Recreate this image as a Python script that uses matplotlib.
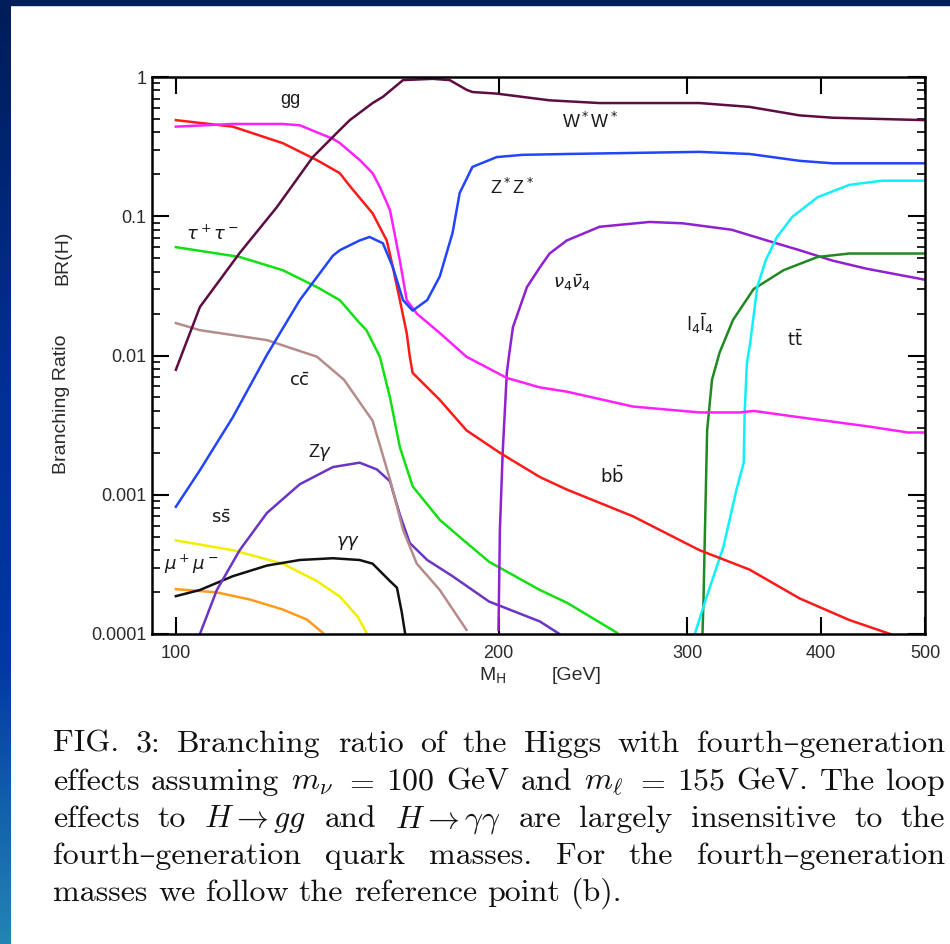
import numpy as np
import matplotlib.pyplot as plt
from matplotlib.colors import LinearSegmentedColormap
from matplotlib.patches import Rectangle
from matplotlib.ticker import FixedLocator, FixedFormatter, NullLocator, LogLocator, NullFormatter

plt.rcParams['font.family'] = ['Liberation Sans', 'DejaVu Sans']

# Higgs branching ratios, 4th generation (m_nu = 100, m_l = 155 GeV)
# masses in GeV, branching ratios as fractions
ww_m = [100.0, 105.3, 114.7, 124.2, 134.2, 142.2, 145.3, 152.6, 156.0, 162.9, 173.6,
        180.1, 186.7, 189.1, 199.2, 223.2, 248.5, 308.0, 343.0, 382.0, 410.0, 500.0]
ww_br = [0.0079, 0.0223, 0.0545, 0.116, 0.266, 0.416, 0.49, 0.65, 0.72, 0.95, 0.97,
         0.95, 0.81, 0.78, 0.76, 0.68, 0.65, 0.65, 0.61, 0.53, 0.51, 0.49]

gg_m = [100.0, 113.0, 125.8, 130.5, 140.1, 142.2, 148.4, 152.6, 155.0, 158.4, 161.8, 164.2,
        167.8, 176.3, 186.7, 203.6, 218.6, 231.6, 267.0, 308.0, 336.0, 346.0, 382.0, 442.0,
        482.0, 500.0]
gg_br = [0.44, 0.46, 0.46, 0.45, 0.36, 0.336, 0.254, 0.204, 0.162, 0.111, 0.048, 0.025,
         0.020, 0.0145, 0.0098, 0.0069, 0.0059, 0.0055, 0.0043, 0.0039, 0.0039, 0.0040, 0.0036,
         0.0031, 0.0028, 0.0028]

bb_m = [100.0, 113.0, 125.8, 135.4, 142.2, 145.3, 152.6, 157.3, 159.4, 161.8, 164.2, 165.3,
        166.3, 176.3, 186.7, 200.6, 218.6, 231.6, 267.0, 308.0, 343.0, 382.0, 425.0, 464.0]
bb_br = [0.49, 0.44, 0.335, 0.253, 0.204, 0.165, 0.105, 0.067, 0.043, 0.025, 0.0145, 0.0098,
         0.0075, 0.0048, 0.0029, 0.0020, 0.00134, 0.00109, 0.00070, 0.00040, 0.00029, 0.00018,
         0.000126, 0.0001]

zz_m = [100.0, 105.3, 113.0, 121.6, 130.5, 140.1, 142.2, 148.4, 151.6, 156.0, 159.4, 162.9,
        166.3, 171.6, 176.3, 181.2, 184.0, 189.1, 199.2, 210.6, 231.6, 308.0, 343.0, 382.0,
        410.0, 500.0]
zz_br = [0.00082, 0.0015, 0.0036, 0.0101, 0.025, 0.052, 0.057, 0.067, 0.071, 0.064, 0.043,
         0.025, 0.021, 0.025, 0.037, 0.076, 0.147, 0.226, 0.266, 0.276, 0.28, 0.29, 0.28, 0.25,
         0.24, 0.24]

tau_m = [100.0, 114.7, 125.8, 135.4, 142.2, 148.4, 150.6, 155.0, 158.4, 161.8, 166.3, 176.3,
         185.0, 196.0, 218.6, 231.6, 258.0]
tau_br = [0.060, 0.051, 0.041, 0.031, 0.025, 0.0171, 0.0152, 0.0098, 0.0050, 0.0022, 0.00115,
          0.00066, 0.00048, 0.00033, 0.000207, 0.000168, 0.000102]

cc_m = [100.0, 105.3, 121.6, 135.4, 143.5, 152.6, 158.4, 162.9, 167.8, 176.3, 186.7]
cc_br = [0.0171, 0.0152, 0.0129, 0.0098, 0.0067, 0.0034, 0.00129, 0.00056, 0.00032,
         0.000207, 0.000107]

zgam_m = [105.3, 109.2, 114.7, 121.6, 130.5, 140.1, 148.4, 154.0, 158.4, 161.8, 165.3, 171.6,
          181.2, 196.0, 218.6, 228.0]
zgam_br = [0.0001, 0.000207, 0.00040, 0.00074, 0.00119, 0.00158, 0.00170, 0.00152, 0.00125,
           0.00072, 0.00045, 0.00034, 0.00026, 0.000171, 0.000123, 0.0001]

gamgam_m = [100.0, 105.3, 113.0, 121.6, 130.5, 140.1, 148.4, 152.6, 158.4, 160.8, 162.5, 163.6]
gamgam_br = [0.000187, 0.000207, 0.00026, 0.00031, 0.00034, 0.00035, 0.00034, 0.00032,
             0.00024, 0.000215, 0.000142, 0.000102]

ss_m = [100.0, 113.0, 125.8, 135.4, 142.2, 147.8, 150.6]
ss_br = [0.00047, 0.00040, 0.00032, 0.00024, 0.000186, 0.000133, 0.000102]

mumu_m = [100.0, 109.2, 117.2, 125.8, 132.5, 137.1]
mumu_br = [0.00021, 0.000199, 0.000177, 0.000150, 0.000127, 0.000102]

nu_m = [200.0, 200.6, 201.8, 203.6, 204.5, 206.3, 212.6, 218.6, 223.2, 231.6, 248.5, 276.6,
        297.0, 330.0, 356.0, 382.0, 410.0, 441.0, 500.0]
nu_br = [0.000107, 0.00056, 0.0020, 0.0075, 0.0098, 0.016, 0.031, 0.043, 0.054, 0.067, 0.084,
         0.091, 0.089, 0.080, 0.067, 0.057, 0.048, 0.042, 0.035]

ll_m = [310.0, 310.7, 311.4, 312.4, 313.1, 316.4, 321.6, 331.0, 346.0, 369.0, 397.0, 425.0, 500.0]
ll_br = [0.0001, 0.00018, 0.00042, 0.0013, 0.0029, 0.0067, 0.0105, 0.018, 0.030, 0.041, 0.051,
         0.054, 0.054]

tt_m = [304.9, 312.4, 324.2, 333.5, 338.7, 339.4, 341.0, 343.3, 348.7, 355.0, 363.8, 376.0,
        397.0, 425.0, 456.0, 500.0]
tt_br = [0.0001, 0.00018, 0.00042, 0.00109, 0.0017, 0.0039, 0.0088, 0.012, 0.031, 0.048, 0.071,
         0.099, 0.137, 0.168, 0.18, 0.18]

x_ticks = [100, 200, 300, 400, 500]
x_ticklabels = ['100', '200', '300', '400', '500']
y_ticks = [1e-4, 1e-3, 1e-2, 1e-1, 1]
y_ticklabels = ['0.0001', '0.001', '0.01', '0.1', '1']

curves = [
    (mumu_m, mumu_br, '#ff9a1a'),
    (ss_m, ss_br, '#f2ee00'),
    (gamgam_m, gamgam_br, '#111111'),
    (zgam_m, zgam_br, '#6a34c4'),
    (cc_m, cc_br, '#b48c8a'),
    (tau_m, tau_br, '#12e012'),
    (nu_m, nu_br, '#9020d0'),
    (ll_m, ll_br, '#1f8a22'),
    (tt_m, tt_br, '#10f0f8'),
    (bb_m, bb_br, '#ff1a1a'),
    (gg_m, gg_br, '#ff20ff'),
    (zz_m, zz_br, '#2244ff'),
    (ww_m, ww_br, '#5e0c42'),
]

# curve names: (text, x px, y px)
curve_labels = [
    ('gg', 290, 100),
    ('W$^*$W$^*$', 590, 122),
    ('Z$^*$Z$^*$', 512, 188),
    (r'$\tau^+\tau^-$', 212, 234),
    (r'$\nu_4\bar{\nu}_4$', 572, 283),
    (r'$\mathrm{l}_4\bar{\mathrm{l}}_4$', 700, 324),
    (r'$\mathrm{t}\bar{\mathrm{t}}$', 795, 340),
    (r'$\mathrm{c}\bar{\mathrm{c}}$', 299, 381),
    (r'Z$\gamma$', 320, 452),
    (r'$\mathrm{b}\bar{\mathrm{b}}$', 612, 476),
    (r'$\mathrm{s}\bar{\mathrm{s}}$', 221, 518),
    (r'$\gamma\gamma$', 348, 543),
    (r'$\mu^+\mu^-$', 191, 564),
]

caption = [
    ['FIG.', '3:', 'Branching', 'ratio', 'of', 'the', 'Higgs', 'with', 'fourth\u2013generation'],
    ['effects', 'assuming', r'$m_\nu$', r'$=$', '100', 'GeV', 'and', r'$m_\ell$', r'$=$', '155',
     'GeV.', 'The', 'loop'],
    ['effects', 'to', r'$H\rightarrow gg$', 'and', r'$H\rightarrow\gamma\gamma$', 'are',
     'largely', 'insensitive', 'to', 'the'],
    ['fourth\u2013generation', 'quark', 'masses.', 'For', 'the', 'fourth\u2013generation'],
    ['masses', 'we', 'follow', 'the', 'reference', 'point', '(b).'],
]

W, H = 950, 944
fig = plt.figure(figsize=(W / 100, H / 100), dpi=100)
fig.patch.set_facecolor('white')


def fx(px):
    return px / W


def fy(py):
    return 1 - py / H


# dark frame: top band and blue gradient strip on the left
fig.add_artist(Rectangle((0, fy(5)), 1, 5 / H, transform=fig.transFigure,
                         color='#001e5a', zorder=5))
strip = LinearSegmentedColormap.from_list(
    'strip', [(0, '#001d58'), (0.4, '#002f94'), (0.7, '#0038a2'), (1.0, '#2384b4')])
gax = fig.add_axes([0, 0, 11 / W, 1])
gax.imshow(np.linspace(0, 1, 256)[:, None], aspect='auto', cmap=strip)
gax.axis('off')

ax = fig.add_axes([fx(152), fy(634), (925 - 152) / W, (634 - 77) / H])
for m, br, c in curves:
    ax.plot(m, br, color=c, lw=1.8, solid_joinstyle='round', clip_on=True)

ax.set_xscale('log')
ax.set_yscale('log')
ax.set_xlim(95, 500)
ax.set_ylim(1e-4, 1)

ax.xaxis.set_major_locator(FixedLocator(x_ticks))
ax.xaxis.set_major_formatter(FixedFormatter(x_ticklabels))
ax.xaxis.set_minor_locator(NullLocator())
ax.yaxis.set_major_locator(FixedLocator(y_ticks))
ax.yaxis.set_major_formatter(FixedFormatter(y_ticklabels))
ax.yaxis.set_minor_locator(LogLocator(base=10, subs=np.arange(2, 10)))
ax.yaxis.set_minor_formatter(NullFormatter())

ax.tick_params(which='both', direction='in', top=True, right=True,
               labelsize=13, labelcolor='#2a2a2a')
ax.tick_params(which='major', length=12, width=1.5)
ax.tick_params(which='minor', length=6, width=1.2)
ax.tick_params(axis='x', pad=8)
ax.tick_params(axis='y', pad=4)
for s in ax.spines.values():
    s.set_linewidth(1.8)

for txt, px, py in curve_labels:
    fig.text(fx(px), fy(py), txt, fontsize=13, color='#1a1a1a', ha='center', va='center')

fig.text(fx(62), fy(404), 'Branching Ratio', rotation=90, fontsize=14,
         color='#2a2a2a', ha='center', va='center')
fig.text(fx(63), fy(258), 'BR(H)', rotation=90, fontsize=14,
         color='#2a2a2a', ha='center', va='center')
fig.text(fx(493), fy(676), r'M$_\mathrm{H}$', fontsize=14, color='#2a2a2a',
         ha='center', va='center')
fig.text(fx(577), fy(676), '[GeV]', fontsize=14, color='#2a2a2a',
         ha='center', va='center')

# justified caption, laid out word by word
cap_fs = 23
cap_family = ['cmr10', 'DejaVu Serif']
x0, x1 = 53, 945
baselines = [752, 790, 827, 864, 901]
renderer = fig.canvas.get_renderer()
rows = []
for words in caption:
    rows.append([fig.text(0, 0, w, fontsize=cap_fs, family=cap_family, math_fontfamily='cm',
                          color='#111111', ha='left', va='baseline') for w in words])
for i, row in enumerate(rows):
    widths = [t.get_window_extent(renderer).width for t in row]
    natural = 0.33 * cap_fs * 100 / 72
    if i < len(rows) - 1:
        gap = max((x1 - x0 - sum(widths)) / (len(row) - 1), 0.15 * natural)
    else:
        gap = natural
    x = x0
    for t, w in zip(row, widths):
        t.set_position((fx(x), fy(baselines[i])))
        x += w + gap

fig.savefig('out.png', dpi=100, facecolor='white')
